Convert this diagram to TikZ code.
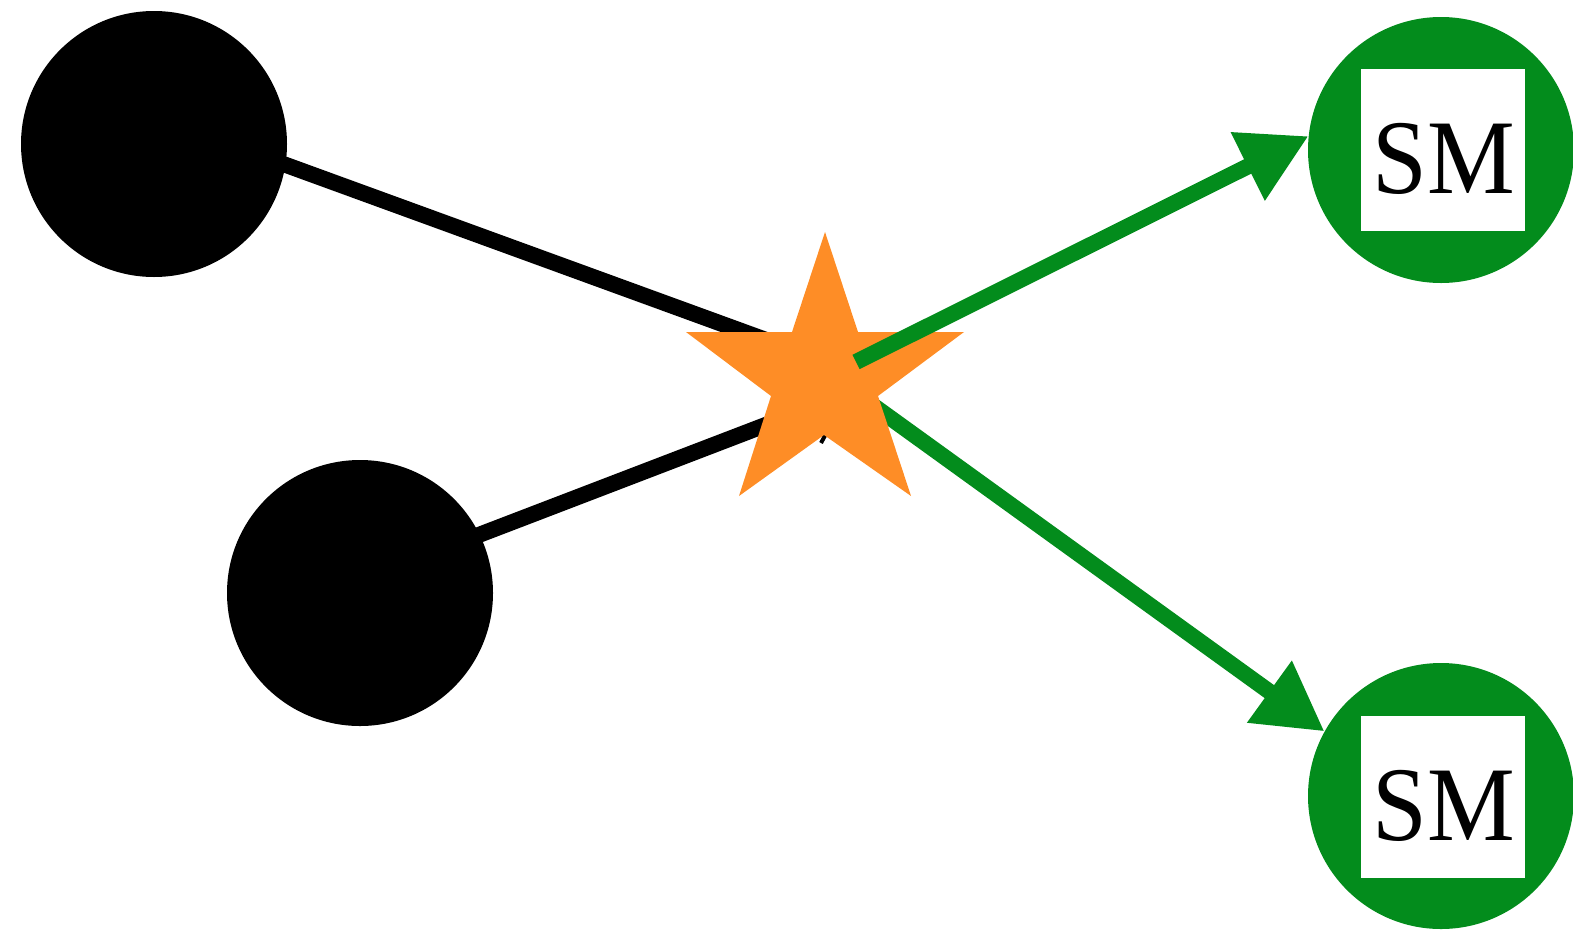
\documentclass[tikz,border=0pt]{standalone}
\usepackage{fontspec}
\usetikzlibrary{arrows.meta}
\newfontfamily\smfont[FakeStretch=0.93]{Liberation Serif}
\definecolor{gr}{RGB}{3,140,28}
\definecolor{orng}{RGB}{254,141,38}
\begin{document}
\begin{tikzpicture}[x=1pt,y=-1pt,
 blackdot/.style={circle,fill=black,minimum size=266pt,inner sep=0pt},
 greendot/.style={circle,fill=gr,minimum size=266pt,inner sep=0pt},
 smbox/.style={rectangle,fill=white,minimum width=164pt,minimum height=162pt,inner sep=0pt},
 smtext/.style={anchor=base,inner sep=0pt,font=\smfont\fontsize{106}{106}\selectfont},
 blackedge/.style={draw=black,line width=16pt,shorten <=-20pt},
 greenedge/.style={draw=gr,line width=16pt,-{Triangle[length=68pt,width=72pt]}}]
\useasboundingbox (0,0) rectangle (1573,932);
\node[blackdot] (c1) at (154,144) {};
\node[blackdot] (c2) at (360,593) {};
\node[greendot] (g1) at (1441,150) {};
\node[greendot] (g2) at (1441,796) {};
\node[smbox] (q1) at (1443,150) {};
\node[smbox] (q2) at (1443,797) {};
\node[smtext] (t1) at (1444,193) {SM};
\node[smtext] (t2) at (1444,840) {SM};
\coordinate (b1) at (810,356);
\coordinate (b2) at (823,403);
\coordinate (s1) at (856,362);
\coordinate (s2) at (860,396);
\draw[blackedge] (c1.-9.5) -- (b1);
\draw[blackedge] (c2.26.4) -- (b2);
\coordinate (k1) at (828,430);
\coordinate (k2) at (821,443);
\draw[black,line width=4pt] (k1) -- (k2);
\draw[greenedge] (s2) -- (g2.151);
\fill[orng] (825,232) -- (858,332) -- (964,332) -- (878,396) -- (911,496) -- (824,435) -- (739,496) -- (771,396) -- (686,332) -- (792,332) -- cycle;
\coordinate (star) at (825,380);
\draw[greenedge] (s1) -- (g1.174);
\end{tikzpicture}
\end{document}
